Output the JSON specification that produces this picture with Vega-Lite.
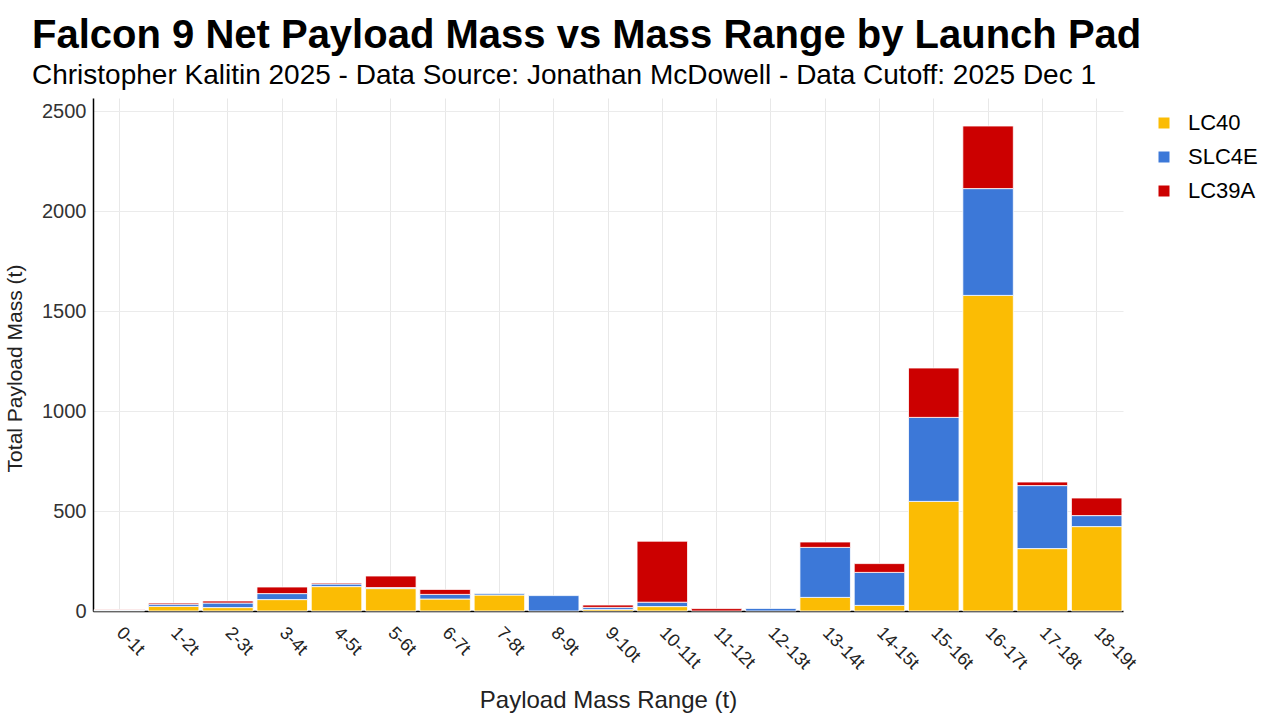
{
  "$schema": "https://vega.github.io/schema/vega-lite/v6.json",
  "autosize": "none",
  "width": 1030,
  "height": 513,
  "padding": {"left": 93, "top": 98, "right": 157, "bottom": 109},
  "background": "white",
  "title": {
    "text": "Falcon 9 Net Payload Mass vs Mass Range by Launch Pad",
    "subtitle": "Christopher Kalitin 2025 - Data Source: Jonathan McDowell - Data Cutoff: 2025 Dec 1",
    "anchor": "start",
    "frame": "group",
    "dx": -61,
    "offset": 8,
    "font": "Liberation Sans",
    "fontSize": 40,
    "fontWeight": "bold",
    "color": "#000000",
    "subtitleFont": "Liberation Sans",
    "subtitleFontSize": 28,
    "subtitleColor": "#000000",
    "subtitlePadding": 6
  },
  "data": {
    "values": [
      {"range": "0-1t", "pad": "LC40", "mass": 3},
      {"range": "0-1t", "pad": "SLC4E", "mass": 2},
      {"range": "0-1t", "pad": "LC39A", "mass": 2},
      {"range": "1-2t", "pad": "LC40", "mass": 23},
      {"range": "1-2t", "pad": "SLC4E", "mass": 11},
      {"range": "1-2t", "pad": "LC39A", "mass": 6},
      {"range": "2-3t", "pad": "LC40", "mass": 17},
      {"range": "2-3t", "pad": "SLC4E", "mass": 23},
      {"range": "2-3t", "pad": "LC39A", "mass": 10},
      {"range": "3-4t", "pad": "LC40", "mass": 57},
      {"range": "3-4t", "pad": "SLC4E", "mass": 30},
      {"range": "3-4t", "pad": "LC39A", "mass": 33},
      {"range": "4-5t", "pad": "LC40", "mass": 122},
      {"range": "4-5t", "pad": "SLC4E", "mass": 13},
      {"range": "4-5t", "pad": "LC39A", "mass": 5},
      {"range": "5-6t", "pad": "LC40", "mass": 112},
      {"range": "5-6t", "pad": "SLC4E", "mass": 5},
      {"range": "5-6t", "pad": "LC39A", "mass": 58},
      {"range": "6-7t", "pad": "LC40", "mass": 60},
      {"range": "6-7t", "pad": "SLC4E", "mass": 23},
      {"range": "6-7t", "pad": "LC39A", "mass": 25},
      {"range": "7-8t", "pad": "LC40", "mass": 80},
      {"range": "7-8t", "pad": "SLC4E", "mass": 8},
      {"range": "8-9t", "pad": "SLC4E", "mass": 77},
      {"range": "9-10t", "pad": "LC40", "mass": 8},
      {"range": "9-10t", "pad": "SLC4E", "mass": 10},
      {"range": "9-10t", "pad": "LC39A", "mass": 12},
      {"range": "10-11t", "pad": "LC40", "mass": 22},
      {"range": "10-11t", "pad": "SLC4E", "mass": 22},
      {"range": "10-11t", "pad": "LC39A", "mass": 305},
      {"range": "11-12t", "pad": "LC39A", "mass": 12},
      {"range": "12-13t", "pad": "SLC4E", "mass": 13},
      {"range": "13-14t", "pad": "LC40", "mass": 68},
      {"range": "13-14t", "pad": "SLC4E", "mass": 250},
      {"range": "13-14t", "pad": "LC39A", "mass": 27},
      {"range": "14-15t", "pad": "LC40", "mass": 28},
      {"range": "14-15t", "pad": "SLC4E", "mass": 165},
      {"range": "14-15t", "pad": "LC39A", "mass": 44},
      {"range": "15-16t", "pad": "LC40", "mass": 548},
      {"range": "15-16t", "pad": "SLC4E", "mass": 420},
      {"range": "15-16t", "pad": "LC39A", "mass": 247},
      {"range": "16-17t", "pad": "LC40", "mass": 1578},
      {"range": "16-17t", "pad": "SLC4E", "mass": 534},
      {"range": "16-17t", "pad": "LC39A", "mass": 313},
      {"range": "17-18t", "pad": "LC40", "mass": 312},
      {"range": "17-18t", "pad": "SLC4E", "mass": 315},
      {"range": "17-18t", "pad": "LC39A", "mass": 18},
      {"range": "18-19t", "pad": "LC40", "mass": 422},
      {"range": "18-19t", "pad": "SLC4E", "mass": 55},
      {"range": "18-19t", "pad": "LC39A", "mass": 88}
    ]
  },
  "transform": [
    {"calculate": "indexof(['LC40', 'SLC4E', 'LC39A'], datum.pad)", "as": "stackOrder"}
  ],
  "mark": {"type": "bar", "stroke": "white", "strokeWidth": 0.8},
  "encoding": {
    "x": {
      "field": "range",
      "type": "nominal",
      "sort": ["0-1t", "1-2t", "2-3t", "3-4t", "4-5t", "5-6t", "6-7t", "7-8t", "8-9t", "9-10t", "10-11t", "11-12t", "12-13t", "13-14t", "14-15t", "15-16t", "16-17t", "17-18t", "18-19t"],
      "scale": {"paddingInner": 0.07, "paddingOuter": 0.02},
      "title": "Payload Mass Range (t)",
      "axis": {
        "labelAngle": 45,
        "labelAlign": "left",
        "labelBaseline": "middle",
        "labelFont": "Liberation Sans",
        "labelFontSize": 18,
        "labelColor": "#222222",
        "labelPadding": 19,
        "ticks": false,
        "bandPosition": 0.5,
        "grid": true,
        "gridColor": "#e8e8e8",
        "domainColor": "#000000",
        "domainWidth": 1.5,
        "titleFont": "Liberation Sans",
        "titleFontSize": 24,
        "titleFontWeight": "normal",
        "titleColor": "#222222",
        "titlePadding": 16
      }
    },
    "y": {
      "field": "mass",
      "type": "quantitative",
      "aggregate": "sum",
      "stack": "zero",
      "scale": {"domain": [0, 2565], "nice": false},
      "title": "Total Payload Mass (t)",
      "axis": {
        "values": [0, 500, 1000, 1500, 2000, 2500],
        "format": "d",
        "ticks": false,
        "labelFont": "Liberation Sans",
        "labelFontSize": 20,
        "labelColor": "#333333",
        "labelPadding": 7,
        "grid": true,
        "gridColor": "#ebebeb",
        "domainColor": "#000000",
        "domainWidth": 1.5,
        "titleFont": "Liberation Sans",
        "titleFontSize": 21,
        "titleFontWeight": "normal",
        "titleColor": "#222222",
        "titlePadding": 16,
        "titleY": 270
      }
    },
    "color": {
      "field": "pad",
      "type": "nominal",
      "sort": ["LC40", "SLC4E", "LC39A"],
      "scale": {"domain": ["LC40", "SLC4E", "LC39A"], "range": ["#FBBC04", "#3C78D8", "#CC0000"]},
      "legend": {
        "title": null,
        "orient": "none",
        "legendX": 1060,
        "legendY": 14,
        "symbolType": "square",
        "symbolSize": 121,
        "symbolStrokeWidth": 0,
        "labelFont": "Liberation Sans",
        "labelFontSize": 22,
        "labelColor": "#000000",
        "labelOffset": 13,
        "rowPadding": 12,
        "padding": 0
      }
    },
    "order": {"field": "stackOrder", "type": "quantitative", "sort": "ascending"}
  },
  "config": {"view": {"stroke": null}}
}
